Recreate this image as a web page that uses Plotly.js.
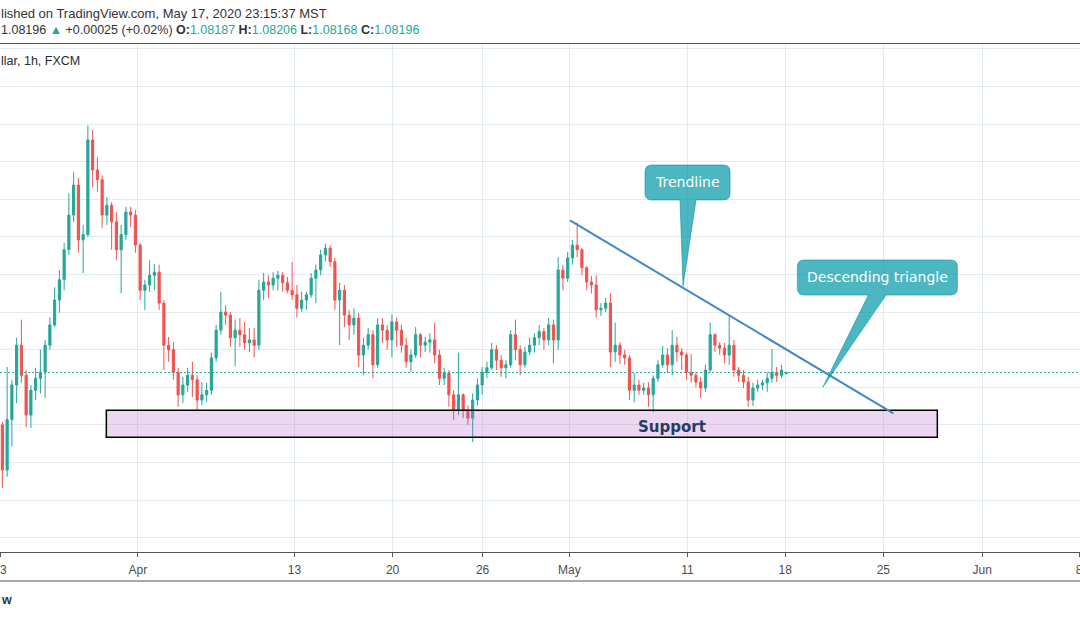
<!DOCTYPE html>
<html><head><meta charset="utf-8">
<script src="https://cdn.plot.ly/plotly-3.0.1.min.js"></script>
<style>html,body{margin:0;padding:0;background:#fff;}#chart{width:1080px;height:618px;}</style>
</head><body><div id="chart"></div>
<script>
// EUR/USD bars (Mar 23 - May 17, 2020), resampled to ~6h bars
const openP = [
1.0750,1.0690,1.0757,1.0803,1.0856,1.0816,1.0763,1.0796,1.0812,1.0820,
1.0856,1.0883,1.0916,1.0943,1.0983,1.1029,1.1069,1.0996,1.1003,1.1129,
1.1089,1.1076,1.1029,1.1042,1.1020,1.0983,1.1003,1.1033,1.1029,1.0989,
1.0929,1.0936,1.0949,1.0953,1.0912,1.0856,1.0850,1.0820,1.0790,1.0803,
1.0816,1.0810,1.0783,1.0790,1.0796,1.0839,1.0876,1.0900,1.0896,1.0866,
1.0876,1.0870,1.0859,1.0863,1.0856,1.0929,1.0940,1.0936,1.0945,1.0949,
1.0939,1.0929,1.0923,1.0905,1.0916,1.0923,1.0945,1.0956,1.0976,1.0985,
1.0967,1.0916,1.0929,1.0896,1.0883,1.0892,1.0843,1.0856,1.0870,1.0830,
1.0883,1.0876,1.0863,1.0887,1.0876,1.0856,1.0834,1.0843,1.0870,1.0856,
1.0860,1.0863,1.0843,1.0812,1.0819,1.0790,1.0770,1.0790,1.0770,1.0759,
1.0783,1.0803,1.0820,1.0826,1.0850,1.0836,1.0826,1.0830,1.0870,1.0850,
1.0830,1.0847,1.0856,1.0866,1.0874,1.0863,1.0883,1.0863,1.0956,1.0945,
1.0972,1.0989,1.0983,1.0959,1.0940,1.0936,1.0903,1.0905,1.0912,1.0847,
1.0856,1.0843,1.0839,1.0796,1.0803,1.0796,1.0799,1.0790,1.0812,1.0830,
1.0843,1.0830,1.0856,1.0847,1.0843,1.0820,1.0816,1.0807,1.0799,1.0823,
1.0870,1.0856,1.0852,1.0843,1.0856,1.0823,1.0816,1.0807,1.0783,1.0799,
1.0803,1.0806,1.0812,1.0820,1.0816,1.08187];
const highP = [
1.0754,1.0827,1.0810,1.0866,1.0890,1.0823,1.0803,1.0826,1.0850,1.0863,
1.0893,1.0933,1.0956,1.0992,1.1058,1.1086,1.1078,1.1016,1.1148,1.1142,
1.1106,1.1082,1.1053,1.1046,1.1033,1.1016,1.1040,1.1040,1.1036,1.0992,
1.0943,1.0969,1.0964,1.0963,1.0916,1.0867,1.0860,1.0826,1.0814,1.0826,
1.0834,1.0816,1.0807,1.0806,1.0846,1.0883,1.0927,1.0909,1.0900,1.0890,
1.0892,1.0887,1.0879,1.0879,1.0943,1.0952,1.0949,1.0953,1.0955,1.0953,
1.0947,1.0967,1.0936,1.0927,1.0927,1.0952,1.0963,1.0983,1.0991,1.0989,
1.0972,1.0939,1.0936,1.0903,1.0905,1.0899,1.0866,1.0879,1.0876,1.0892,
1.0892,1.0883,1.0897,1.0893,1.0883,1.0866,1.0850,1.0880,1.0872,1.0867,
1.0872,1.0886,1.0850,1.0826,1.0823,1.0796,1.0846,1.0792,1.0776,1.0792,
1.0812,1.0827,1.0834,1.0859,1.0856,1.0843,1.0836,1.0876,1.0890,1.0856,
1.0854,1.0866,1.0872,1.0883,1.0879,1.0892,1.0890,1.0973,1.0963,1.0980,
1.0996,1.1019,1.0985,1.0961,1.0948,1.0949,1.0912,1.0919,1.0925,1.0886,
1.0860,1.0850,1.0843,1.0819,1.0810,1.0806,1.0807,1.0816,1.0836,1.0855,
1.0852,1.0876,1.0867,1.0852,1.0846,1.0844,1.0820,1.0814,1.0830,1.0886,
1.0872,1.0860,1.0859,1.0895,1.0863,1.0827,1.0823,1.0814,1.0806,1.0810,
1.0810,1.0820,1.0851,1.0827,1.0830,1.08206];
const lowP = [
1.0666,1.0681,1.0721,1.0779,1.0806,1.0747,1.0746,1.0783,1.0792,1.0786,
1.0850,1.0880,1.0899,1.0929,1.0976,1.1020,1.0979,1.0952,1.1000,1.1066,
1.1060,1.1012,1.1016,1.0983,1.0969,1.0925,1.0996,1.1013,1.0979,1.0916,
1.0903,1.0927,1.0929,1.0903,1.0823,1.0834,1.0810,1.0774,1.0779,1.0794,
1.0787,1.0770,1.0776,1.0780,1.0790,1.0834,1.0870,1.0883,1.0854,1.0828,
1.0854,1.0850,1.0847,1.0840,1.0850,1.0916,1.0919,1.0929,1.0929,1.0927,
1.0925,1.0916,1.0893,1.0900,1.0903,1.0919,1.0912,1.0949,1.0967,1.0960,
1.0903,1.0856,1.0880,1.0863,1.0870,1.0827,1.0816,1.0850,1.0812,1.0826,
1.0859,1.0850,1.0840,1.0854,1.0846,1.0826,1.0820,1.0839,1.0840,1.0847,
1.0846,1.0832,1.0803,1.0803,1.0774,1.0757,1.0763,1.0759,1.0750,1.0727,
1.0776,1.0790,1.0812,1.0823,1.0823,1.0814,1.0812,1.0826,1.0836,1.0816,
1.0826,1.0843,1.0846,1.0856,1.0850,1.0856,1.0832,1.0850,1.0929,1.0940,
1.0963,1.0973,1.0949,1.0929,1.0925,1.0893,1.0895,1.0900,1.0827,1.0834,
1.0831,1.0830,1.0783,1.0780,1.0790,1.0790,1.0774,1.0767,1.0807,1.0826,
1.0819,1.0816,1.0834,1.0823,1.0810,1.0806,1.0800,1.0786,1.0794,1.0820,
1.0847,1.0843,1.0832,1.0830,1.0814,1.0807,1.0799,1.0774,1.0775,1.0794,
1.0796,1.0794,1.0806,1.0807,1.0812,1.08168];
const closeP = [
1.0690,1.0757,1.0803,1.0856,1.0816,1.0763,1.0796,1.0812,1.0820,1.0856,
1.0883,1.0916,1.0943,1.0983,1.1029,1.1069,1.0996,1.1003,1.1129,1.1089,
1.1076,1.1029,1.1042,1.1020,1.0983,1.1003,1.1033,1.1029,1.0989,1.0929,
1.0936,1.0949,1.0953,1.0912,1.0856,1.0850,1.0820,1.0790,1.0803,1.0816,
1.0810,1.0783,1.0790,1.0796,1.0839,1.0876,1.0900,1.0896,1.0866,1.0876,
1.0870,1.0859,1.0863,1.0856,1.0929,1.0940,1.0936,1.0945,1.0949,1.0939,
1.0929,1.0923,1.0905,1.0916,1.0923,1.0945,1.0956,1.0976,1.0985,1.0967,
1.0916,1.0929,1.0896,1.0883,1.0892,1.0843,1.0856,1.0870,1.0830,1.0883,
1.0876,1.0863,1.0887,1.0876,1.0856,1.0834,1.0843,1.0870,1.0856,1.0860,
1.0863,1.0843,1.0812,1.0819,1.0790,1.0770,1.0790,1.0770,1.0759,1.0783,
1.0803,1.0820,1.0826,1.0850,1.0836,1.0826,1.0830,1.0870,1.0850,1.0830,
1.0847,1.0856,1.0866,1.0874,1.0863,1.0883,1.0863,1.0956,1.0945,1.0972,
1.0989,1.0983,1.0959,1.0940,1.0936,1.0903,1.0905,1.0912,1.0847,1.0856,
1.0843,1.0839,1.0796,1.0803,1.0796,1.0799,1.0790,1.0812,1.0830,1.0843,
1.0830,1.0856,1.0847,1.0843,1.0820,1.0816,1.0807,1.0799,1.0823,1.0870,
1.0856,1.0852,1.0843,1.0856,1.0823,1.0816,1.0807,1.0783,1.0799,1.0803,
1.0806,1.0812,1.0820,1.0816,1.0823,1.08196];

// time index of each bar (bar-time units, 6 per bar)
const barTime = openP.map((_, i) => 6 * i + 3);

// tick positions on the same time index
const tickTimes  = [0, 174.1, 371.9, 495.9, 609.5, 719.1, 868.3, 991.8, 1115.7, 1240.6, 1362.9];
const tickLabels = ['23', 'Apr', '13', '20', '26', 'May', '11', '18', '25', 'Jun', '8'];

const lastPrice = 1.08196;
const trendStart = {t: 720.0, p: 1.10219};
const trendEnd   = {t: 1128.3, p: 1.07654};
const supportZone = {t0: 134.3, t1: 1183.9, p0: 1.07335, p1: 1.07694};
const trendCallout = {t0: 814.7, t1: 922.1, p0: 1.10491, p1: 1.10956,
                      b0: 858.9, b1: 879.1, tipT: 862.7, tipP: 1.09347, textT: 868.4, textP: 1.1073};
const triCallout   = {t0: 1007.1, t1: 1209.2, p0: 1.09227, p1: 1.09693,
                      b0: 1096.8, b1: 1119.1, tipT: 1039.2, tipP: 1.0800, textT: 1107.7, textP: 1.09467};

const GREEN = '#26a69a', RED = '#ef5350';
const PH = 508, PT = 44; // plot height / top
const py = (pix) => (PT + PH - pix) / PH; // paper y from pixel row

function callPath(c) {
  const rx = 8.5, ry = 0.0009;
  return 'M' + (c.t0 + rx) + ',' + c.p1 +
    ' L' + (c.t1 - rx) + ',' + c.p1 +
    ' Q' + c.t1 + ',' + c.p1 + ' ' + c.t1 + ',' + (c.p1 - ry) +
    ' L' + c.t1 + ',' + (c.p0 + ry) +
    ' Q' + c.t1 + ',' + c.p0 + ' ' + (c.t1 - rx) + ',' + c.p0 +
    ' L' + c.b1 + ',' + c.p0 +
    ' L' + c.tipT + ',' + c.tipP +
    ' L' + c.b0 + ',' + c.p0 +
    ' L' + (c.t0 + rx) + ',' + c.p0 +
    ' Q' + c.t0 + ',' + c.p0 + ' ' + c.t0 + ',' + (c.p0 + ry) +
    ' L' + c.t0 + ',' + (c.p1 - ry) +
    ' Q' + c.t0 + ',' + c.p1 + ' ' + (c.t0 + rx) + ',' + c.p1 + ' Z';
}

const trace = {
  type: 'candlestick',
  x: barTime, open: openP, high: highP, low: lowP, close: closeP,
  increasing: {line: {color: GREEN, width: 1}, fillcolor: GREEN},
  decreasing: {line: {color: RED, width: 1}, fillcolor: RED},
  whiskerwidth: 0,
  hoverinfo: 'skip', showlegend: false
};

const FONT = 'Liberation Sans, Arial, sans-serif';
const TEAL = '#26a69a';
const hdr2 = '1.08196 <span style="color:' + TEAL + '">▲</span> +0.00025 (+0.02%) ' +
  '<b>O:</b><span style="color:' + TEAL + '">1.08187</span> ' +
  '<b>H:</b><span style="color:' + TEAL + '">1.08206</span> ' +
  '<b>L:</b><span style="color:' + TEAL + '">1.08168</span> ' +
  '<b>C:</b><span style="color:' + TEAL + '">1.08196</span>';

const layout = {
  width: 1080, height: 618,
  margin: {l: 0, r: 0, t: PT, b: 618 - PT - PH, pad: 0},
  paper_bgcolor: '#ffffff', plot_bgcolor: '#ffffff',
  showlegend: false,
  boxgap: 0.35,
  font: {family: FONT, color: '#333'},
  xaxis: {
    type: 'linear', range: [0, 1364.1],
    tickmode: 'array', tickvals: tickTimes, ticktext: tickLabels,
    ticklabeloverflow: 'allow',
    showgrid: true, gridcolor: '#e1ebf1', gridwidth: 1,
    zeroline: false, showline: true, linecolor: '#555', linewidth: 1, mirror: true,
    ticks: 'outside', ticklen: 4, tickcolor: '#555', tickwidth: 1,
    ticklabelstandoff: 3,
    tickfont: {family: FONT, size: 12, color: '#4a4d57'},
    rangeslider: {visible: false}, fixedrange: true
  },
  yaxis: {
    range: [1.058098, 1.125652],
    tick0: 1.06, dtick: 0.005,
    showgrid: true, gridcolor: '#e1ebf1', gridwidth: 1,
    zeroline: false, showline: false, showticklabels: false, ticks: '', fixedrange: true
  },
  shapes: [
    {type: 'rect', xref: 'x', yref: 'y', layer: 'above',
     x0: supportZone.t0, x1: supportZone.t1, y0: supportZone.p0, y1: supportZone.p1,
     fillcolor: 'rgba(186,104,200,0.27)', line: {color: '#000', width: 1.5}},
    {type: 'line', xref: 'paper', yref: 'y', x0: 0, x1: 1, y0: lastPrice, y1: lastPrice,
     line: {color: TEAL, width: 1, dash: '2px,2px'}, layer: 'above'},
    {type: 'line', xref: 'x', yref: 'y', layer: 'above',
     x0: trendStart.t, y0: trendStart.p, x1: trendEnd.t, y1: trendEnd.p,
     line: {color: '#4287c8', width: 2}},
    {type: 'path', xref: 'x', yref: 'y', layer: 'above', path: callPath(trendCallout),
     fillcolor: 'rgba(0,151,167,0.70)', line: {color: 'rgba(0,140,155,0.55)', width: 1}},
    {type: 'path', xref: 'x', yref: 'y', layer: 'above', path: callPath(triCallout),
     fillcolor: 'rgba(0,151,167,0.70)', line: {color: 'rgba(0,140,155,0.55)', width: 1}},
    {type: 'line', xref: 'paper', yref: 'paper', x0: 0, x1: 1, y0: py(581), y1: py(581),
     line: {color: '#555', width: 1}}
  ],
  annotations: [
    {xref: 'x', yref: 'y', x: trendCallout.textT, y: trendCallout.textP, text: 'Trendline',
     showarrow: false, font: {family: 'DejaVu Sans, sans-serif', size: 14, color: '#ffffff'}},
    {xref: 'x', yref: 'y', x: triCallout.textT, y: triCallout.textP, text: 'Descending triangle',
     showarrow: false, font: {family: 'DejaVu Sans, sans-serif', size: 14, color: '#ffffff'}},
    {xref: 'x', yref: 'y', x: 848.2, y: 1.07475, text: '<b>Support</b>',
     showarrow: false, font: {family: 'DejaVu Sans, sans-serif', size: 15, color: '#243c63'}},
    {xref: 'paper', yref: 'paper', x: 0, y: py(13), xanchor: 'left', yanchor: 'middle',
     text: 'lished on TradingView.com, May 17, 2020 23:15:37 MST', showarrow: false,
     font: {family: FONT, size: 13, color: '#333'}, borderpad: 0},
    {xref: 'paper', yref: 'paper', x: 0, y: py(30), xanchor: 'left', yanchor: 'middle',
     text: hdr2, showarrow: false, font: {family: FONT, size: 12.5, color: '#333'}, borderpad: 0},
    {xref: 'paper', yref: 'paper', x: 0, y: py(61), xanchor: 'left', yanchor: 'middle',
     text: 'llar, 1h, FXCM', showarrow: false, font: {family: FONT, size: 12.5, color: '#2b2b2b'}, borderpad: 0},
    {xref: 'paper', yref: 'paper', x: 0, y: py(600), xanchor: 'left', yanchor: 'middle',
     text: '<b>w</b>', showarrow: false, font: {family: FONT, size: 12.5, color: '#333'}, borderpad: 0}
  ]
};

Plotly.newPlot('chart', [trace], layout, {staticPlot: true, displayModeBar: false});
</script>
</body></html>
